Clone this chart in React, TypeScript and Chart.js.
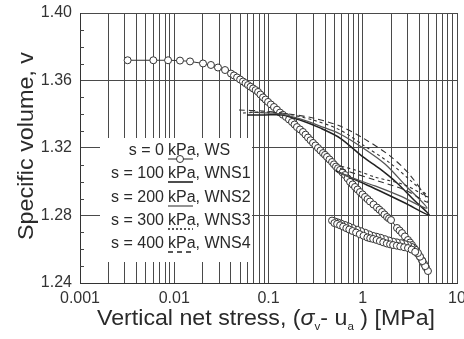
import React, { useEffect, useRef } from "react";
import { Chart, registerables } from "chart.js";
Chart.register(...registerables);

const FONT = "'Liberation Sans', Arial, sans-serif";

const xTickLabels = ["0.001", "0.01", "0.1", "1", "10"];
const yTickLabels = ["1.24", "1.28", "1.32", "1.36", "1.40"];

// s = 0 kPa (WS): loading, unloading, reloading
const wsStress = [
  0.0032, 0.006, 0.0086, 0.0115, 0.0147, 0.0202, 0.0245, 0.0291, 0.0346, 0.04,
  0.043, 0.0464, 0.05, 0.0536, 0.057, 0.0606, 0.0645, 0.0686, 0.073, 0.0775, 0.082, 0.0875, 0.093, 0.0989, 0.106,
  0.1144, 0.123, 0.1324, 0.142, 0.1533, 0.165, 0.1776, 0.189, 0.2005, 0.216, 0.2322, 0.247, 0.2624, 0.279, 0.2965,
  0.315, 0.335, 0.356, 0.3788, 0.398, 0.4177, 0.444, 0.472, 0.495, 0.52, 0.546, 0.574, 0.61, 0.649, 0.69, 0.733,
  0.78, 0.828, 0.88, 0.935, 0.995, 1.057, 1.125, 1.194, 1.3, 1.416, 1.505, 1.6, 1.7, 1.81, 1.9, 1.995,
  2.31, 2.46, 2.61, 2.8, 3.02, 3.17, 3.33, 3.5, 3.67, 3.85, 4.05, 4.26, 4.47, 4.69, 4.92,
  4.6, 4.3, 4.05, 3.85, 3.6, 3.3, 3.02, 2.8, 2.55, 2.3, 2.1, 1.9, 1.72, 1.55, 1.41, 1.29, 1.17, 1.06, 0.96, 0.87, 0.78, 0.71, 0.645, 0.59, 0.545, 0.505, 0.472,
  0.5, 0.535, 0.575, 0.62, 0.67, 0.72, 0.78, 0.85, 0.93, 1.02, 1.12, 1.2, 1.29, 1.4, 1.52, 1.65, 1.8, 1.95, 2.1, 2.3, 2.5, 2.75, 3.02, 3.3, 3.6,
];
const wsVolume = [
  1.372, 1.372, 1.372, 1.3718, 1.3713, 1.3701, 1.3692, 1.3677, 1.3662, 1.3641,
  1.363, 1.3618, 1.3606, 1.3594, 1.3584, 1.3573, 1.3563, 1.3553, 1.3543, 1.3532, 1.3517, 1.35, 1.3487, 1.3473, 1.3458,
  1.3443, 1.3427, 1.341, 1.3397, 1.3384, 1.3369, 1.3354, 1.3339, 1.3324, 1.331, 1.3295, 1.3279, 1.3262, 1.3246, 1.323,
  1.3215, 1.32, 1.3185, 1.317, 1.3159, 1.3147, 1.3132, 1.3117, 1.3103, 1.309, 1.308, 1.307, 1.3055, 1.304, 1.302, 1.2999,
  1.2984, 1.2969, 1.2954, 1.2939, 1.2925, 1.291, 1.2897, 1.2883, 1.2865, 1.2847, 1.2834, 1.2821, 1.2806, 1.2791, 1.2782, 1.2773,
  1.2726, 1.2711, 1.2696, 1.2676, 1.2655, 1.264, 1.2625, 1.2608, 1.259, 1.2572, 1.2554, 1.2534, 1.2513, 1.2492, 1.2471,
  1.25, 1.253, 1.2556, 1.2578, 1.2598, 1.2614, 1.2625, 1.263, 1.2636, 1.2641, 1.2645, 1.2652, 1.266, 1.2668, 1.2674, 1.2679, 1.2688, 1.2698, 1.2707, 1.2716, 1.2726, 1.2735, 1.2744, 1.2752, 1.2759, 1.2765, 1.277,
  1.2755, 1.275, 1.2742, 1.2734, 1.2725, 1.2717, 1.2708, 1.2699, 1.2689, 1.268, 1.267, 1.2665, 1.2661, 1.2655, 1.2648, 1.2641, 1.2634, 1.2629, 1.2625, 1.2621, 1.2617, 1.2612, 1.2607, 1.2598, 1.2585,
];

// s = 100 kPa (WNS1)
const wns1Stress = [0.0591, 0.0918, 0.139, 0.216, 0.352, 0.574, 1.006, 1.524, 2.309, 3.414, 5.045, 2.808, 1.524, 0.935, 0.648, 0.52];
const wns1Volume = [1.3396, 1.3396, 1.3396, 1.3366, 1.3319, 1.3259, 1.3147, 1.3076, 1.2993, 1.2898, 1.2803, 1.2874, 1.2945, 1.2999, 1.304, 1.3064];
// s = 200 kPa (WNS2)
const wns2Stress = [0.0636, 0.1037, 0.139, 0.216, 0.352, 0.574, 1.006, 1.722, 2.808, 4.805, 2.484, 1.349, 0.7323, 0.546];
const wns2Volume = [1.3413, 1.3407, 1.3401, 1.3372, 1.333, 1.3283, 1.32, 1.3105, 1.2981, 1.2844, 1.2916, 1.2975, 1.3028, 1.3058];
// s = 300 kPa (WNS3)
const wns3Stress = [0.0536, 0.0874, 0.139, 0.2965, 0.5736, 1.006, 1.946, 3.171, 4.924, 2.808, 1.349, 0.8276, 0.5736];
const wns3Volume = [1.3407, 1.3413, 1.3407, 1.3366, 1.3307, 1.3218, 1.3111, 1.301, 1.291, 1.2981, 1.3028, 1.307, 1.3093];
// s = 400 kPa (WNS4)
const wns4Stress = [0.0486, 0.0874, 0.139, 0.2965, 0.5736, 1.006, 1.946, 3.171, 4.924, 2.808, 1.349, 0.7323, 0.5331];
const wns4Volume = [1.3425, 1.3419, 1.3407, 1.3378, 1.333, 1.3259, 1.3153, 1.304, 1.288, 1.2951, 1.301, 1.3058, 1.3087];

const legendSuction = ["0", "100", "200", "300", "400"];
const legendNames = ["WS", "WNS1", "WNS2", "WNS3", "WNS4"];

const toPts = (xs: number[], ys: number[]) => xs.map((x, i) => ({ x, y: ys[i] }));

const legendPlugin = {
  id: "boxLegend",
  afterDatasetsDraw(chart: any) {
    const ctx = chart.ctx;
    ctx.save();
    ctx.fillStyle = "#ffffff";
    ctx.fillRect(100, 138, 152, 124);
    const rows = [151, 174, 198, 221, 244];
    ctx.font = `16px ${FONT}`;
    ctx.fillStyle = "#2a2a2a";
    ctx.textBaseline = "middle";
    rows.forEach((y, i) => {
      ctx.textAlign = "right";
      ctx.fillText(`s = ${legendSuction[i]}`, 164, y);
      ctx.textAlign = "left";
      ctx.fillText(`kPa, ${legendNames[i]}`, 168, y);
      const ly = y + 8;
      ctx.beginPath();
      ctx.lineWidth = i === 0 ? 1 : 1.6;
      ctx.strokeStyle = i === 2 ? "#777" : "#222";
      if (i === 3) ctx.setLineDash([2, 2]);
      else if (i === 4) ctx.setLineDash([5, 4]);
      else ctx.setLineDash([]);
      ctx.moveTo(168, ly);
      ctx.lineTo(193, ly);
      ctx.stroke();
      ctx.setLineDash([]);
      if (i === 0) {
        ctx.beginPath();
        ctx.fillStyle = "#fff";
        ctx.arc(180, ly, 3.5, 0, Math.PI * 2);
        ctx.fill();
        ctx.strokeStyle = "#333";
        ctx.lineWidth = 1;
        ctx.stroke();
        ctx.fillStyle = "#2a2a2a";
      }
    });
    ctx.restore();
  },
  afterDraw(chart: any) {
    const ctx = chart.ctx;
    const area = chart.chartArea;
    const yScale = chart.scales.y;
    ctx.save();
    ctx.strokeStyle = "#444";
    ctx.lineWidth = 1;
    for (let k = 125; k < 140; k++) {
      if (k % 4 === 0) continue;
      const py = Math.round(yScale.getPixelForValue(k / 100)) + 0.5;
      ctx.beginPath();
      ctx.moveTo(area.left, py);
      ctx.lineTo(area.left + 4, py);
      ctx.stroke();
    }
    ctx.fillStyle = "#2a2a2a";
    ctx.textBaseline = "alphabetic";
    ctx.textAlign = "left";
    const segs = [
      { t: "Vertical net stress, (", f: `22px ${FONT}`, dy: 0 },
      { t: "σ", f: `italic 22px ${FONT}`, dy: 0 },
      { t: "v", f: `11px ${FONT}`, dy: 5 },
      { t: "- u", f: `22px ${FONT}`, dy: 0 },
      { t: "a", f: `11px ${FONT}`, dy: 5 },
      { t: " ) [MPa]", f: `22px ${FONT}`, dy: 0 },
    ];
    let total = 0;
    segs.forEach((s) => {
      ctx.font = s.f;
      total += ctx.measureText(s.t).width;
    });
    const target = 338;
    ctx.save();
    ctx.translate(97, 325);
    ctx.scale(target / total, 1);
    let cx = 0;
    segs.forEach((s) => {
      ctx.font = s.f;
      ctx.fillText(s.t, cx, s.dy);
      cx += ctx.measureText(s.t).width;
    });
    ctx.restore();
    ctx.save();
    ctx.translate(33, 146);
    ctx.rotate(-Math.PI / 2);
    ctx.font = `22px ${FONT}`;
    ctx.textAlign = "center";
    const yt = "Specific volume, v";
    const w = ctx.measureText(yt).width;
    ctx.scale(188 / w, 1);
    ctx.fillText(yt, 0, 0);
    ctx.restore();
    ctx.restore();
  },
};

export default function App() {
  const ref = useRef<HTMLCanvasElement | null>(null);
  useEffect(() => {
    if (!ref.current) return;
    const lineDs = (label: string, xs: number[], ys: number[], color: string, width: number, dash: number[]) => ({
      label,
      data: toPts(xs, ys),
      showLine: true,
      borderColor: color,
      borderWidth: width,
      borderDash: dash,
      pointRadius: 0,
      fill: false,
      tension: 0.3,
    });
    const chart = new Chart(ref.current, {
      type: "scatter",
      data: {
        datasets: [
          lineDs("WNS4", wns4Stress, wns4Volume, "#333", 1.1, [6, 4]),
          lineDs("WNS3", wns3Stress, wns3Volume, "#333", 1.1, [3, 3]),
          lineDs("WNS2", wns2Stress, wns2Volume, "#555", 1.3, []),
          lineDs("WNS1", wns1Stress, wns1Volume, "#222", 1.5, []),
          {
            label: "WS",
            data: toPts(wsStress, wsVolume),
            showLine: true,
            borderColor: "#333",
            borderWidth: 1,
            pointRadius: 3.5,
            pointBorderWidth: 1,
            pointBorderColor: "#333",
            pointBackgroundColor: "#fff",
            fill: false,
          },
        ],
      },
      options: {
        responsive: false,
        animation: false,
        devicePixelRatio: 1,
        layout: { padding: { left: 0, right: 7, top: 13, bottom: 0 } },
        plugins: { legend: { display: false }, tooltip: { enabled: false } },
        scales: {
          x: {
            type: "logarithmic",
            min: 0.001,
            max: 10,
            afterBuildTicks: (s: any) => {
              const t: any[] = [];
              for (let e = -3; e <= 1; e++) {
                for (let m = 1; m <= 9; m++) {
                  const v = m * Math.pow(10, e);
                  if (v > 10.0001) break;
                  t.push({ value: v });
                }
              }
              s.ticks = t;
            },
            afterFit: (s: any) => {
              s.height = 56;
              s.paddingLeft = 0;
              s.paddingRight = 0;
            },
            ticks: {
              autoSkip: false,
              maxRotation: 0,
              minRotation: 0,
              padding: 6,
              color: "#333",
              font: { size: 16, family: FONT },
              callback: (v: any) => {
                const l = Math.log10(Number(v));
                if (Math.abs(l - Math.round(l)) < 1e-6) return xTickLabels[Math.round(l) + 3];
                return "";
              },
            },
            grid: { color: "#4a4a4a", lineWidth: 1, drawTicks: false },
            border: { color: "#333", width: 1 },
          },
          y: {
            type: "linear",
            min: 1.24,
            max: 1.4,
            afterBuildTicks: (s: any) => {
              s.ticks = yTickLabels.map((l) => ({ value: parseFloat(l) }));
            },
            afterFit: (s: any) => {
              s.width = 80;
              s.paddingTop = 0;
              s.paddingBottom = 0;
            },
            ticks: {
              padding: 8,
              color: "#333",
              font: { size: 16, family: FONT },
              callback: (v: any) => {
                const f = Number(v).toFixed(2);
                return yTickLabels.find((l) => l === f) ?? f;
              },
            },
            grid: { color: "#4a4a4a", lineWidth: 1, drawTicks: false },
            border: { color: "#333", width: 1 },
          },
        },
      },
      plugins: [legendPlugin],
    });
    return () => chart.destroy();
  }, []);
  return (
    <div style={{ position: "fixed", left: 0, top: 0, width: 464, height: 339, background: "#fff" }}>
      <canvas ref={ref} width={464} height={339} style={{ display: "block" }} />
    </div>
  );
}
